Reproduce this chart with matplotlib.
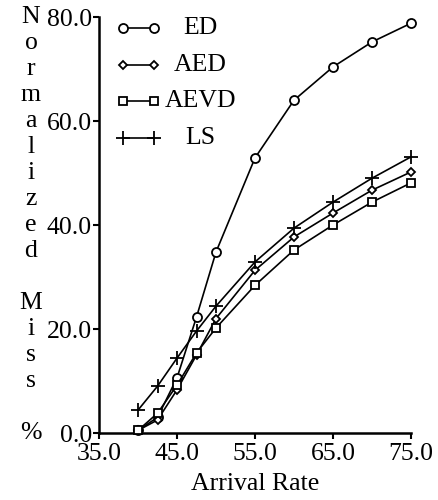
import matplotlib
matplotlib.use("Agg")
import matplotlib.pyplot as plt

plt.rcParams["font.family"] = ["Liberation Serif", "DejaVu Serif"]

# Arrival rate (x) and normalized miss percentage per scheduling policy
arrival_rate = [40.0, 42.5, 45.0, 47.5, 50.0, 55.0, 60.0, 65.0, 70.0, 75.0]
ed = [0.5, 3.0, 10.6, 22.3, 34.8, 52.9, 64.0, 70.4, 75.2, 78.8]
aed = [0.5, 2.5, 8.3, 15.0, 22.0, 31.3, 37.7, 42.3, 46.7, 50.2]
aevd = [0.5, 3.8, 9.2, 15.4, 20.2, 28.4, 35.2, 40.0, 44.4, 48.1]
ls = [4.4, 9.0, 14.4, 19.6, 24.4, 32.9, 39.4, 44.4, 49.0, 53.1]

series_names = ["ED", "AED", "AEVD", "LS"]
series_values = [ed, aed, aevd, ls]
series_markers = ["o", "D", "s", "+"]
series_msize = [6.5, 4.5, 6, 10]

x_ticks = [35.0, 45.0, 55.0, 65.0, 75.0]
y_ticks = [0.0, 20.0, 40.0, 60.0, 80.0]
y_label_rows = ["N", "o", "r", "m", "a", "l", "i", "z", "e", "d", "",
                "M", "i", "s", "s", "", "%"]
x_label = "Arrival Rate"

W, H = 439, 500
fig = plt.figure(figsize=(W / 100, H / 100), dpi=100)
ax = fig.add_axes([99 / W, 1 - 433 / H, (411 - 99) / W, (433 - 17) / H])

for name, vals, mk, ms in zip(series_names, series_values, series_markers, series_msize):
    ax.plot(arrival_rate, vals, color="black", lw=1.2, marker=mk, ms=ms,
            mfc="white" if mk != "+" else "black", mec="black", mew=1.3,
            clip_on=False, zorder=3)

ax.set_xlim(x_ticks[0], x_ticks[-1])
ax.set_ylim(y_ticks[0], y_ticks[-1])
ax.set_xticks(x_ticks)
ax.set_yticks(y_ticks)
ax.set_xticklabels([f"{v:.1f}" for v in x_ticks])
ax.set_yticklabels([f"{v:.1f}" for v in y_ticks])
ax.tick_params(axis="both", direction="out", length=4, width=1.5,
               labelsize=18.5, color="black")
ax.tick_params(axis="y", pad=1)
ax.tick_params(axis="x", pad=3)
for side in ["top", "right"]:
    ax.spines[side].set_visible(False)
for side in ["left", "bottom"]:
    ax.spines[side].set_linewidth(1.8)

ax.set_xlabel(x_label, fontsize=18.5, labelpad=6)

# Stacked vertical y-axis title, one character per row
row_h = 26.0
for i, ch in enumerate(y_label_rows):
    if ch:
        fig.text(31 / W, 1 - (17 + i * row_h) / H, ch, fontsize=18.5,
                 ha="center", va="center")

# Legend: key line with a marker at each end, label centred to its right
leg_x0, leg_x1, leg_lab = 0.078, 0.175, 0.325
leg_y0, leg_dy = 0.973, 0.088
for i, (name, mk, ms) in enumerate(zip(series_names, series_markers, series_msize)):
    yy = leg_y0 - i * leg_dy
    ax.plot([leg_x0, leg_x1], [yy, yy], transform=ax.transAxes, color="black",
            lw=1.2, marker=mk, ms=ms, mfc="white" if mk != "+" else "black",
            mec="black", mew=1.3, clip_on=False)
    ax.text(leg_lab, yy, name, transform=ax.transAxes, fontsize=18.5,
            ha="center", va="center")

fig.savefig("out.png", dpi=100)
